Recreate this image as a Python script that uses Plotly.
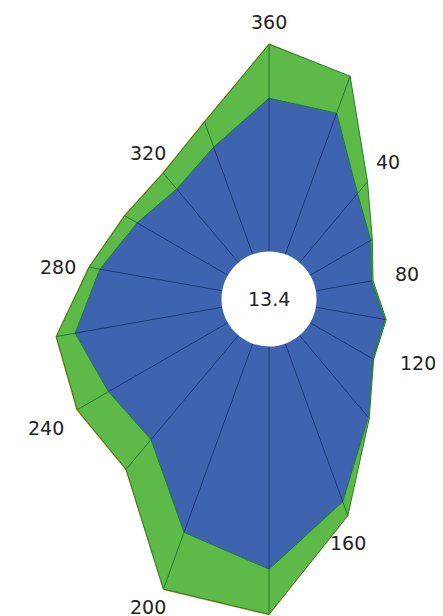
import numpy as np
import plotly.graph_objects as go

# ---- data (percent frequency per direction, stacked) ----
directions = [0, 20, 40, 60, 80, 100, 120, 140, 160, 180, 200, 220, 240, 260, 280, 300, 320, 340]
blue_vals = [5.06, 4.96, 2.98, 2.31, 1.87, 2.32, 2.39, 3.53, 5.55, 7.35, 6.63, 4.49, 4.55, 4.93, 4.10, 3.46, 3.17, 3.77]
green_vals = [1.78, 1.30, 0.51, 0.06, 0.05, 0.04, 0.03, 0.05, 0.49, 1.49, 1.99, 1.28, 1.19, 0.63, 0.36, 0.47, 0.69, 0.88]
orange_vals = [0.03, 0.0, 0.0, 0.0, 0.0, 0.0, 0.0, 0.0, 0.01, 0.03, 0.03, 0.03, 0.03, 0.03, 0.03, 0.03, 0.03, 0.03]
tick_angles = [0, 40, 80, 120, 160, 200, 240, 280, 320]
tick_labels = ["360", "40", "80", "120", "160", "200", "240", "280", "320"]
calm_label = "13.4"

# ---- layout constants ----
PAGE_OFF = 8               # browser body margin
W, H = 443 - PAGE_OFF, 616 - PAGE_OFF
S = 30.3                   # pixels per percent unit
CX, CY = 269 - PAGE_OFF, 299 - PAGE_OFF   # centre in figure pixels
HOLE = 47.5 / S            # hole radius (units)

BLUE = "#3E64AF"
GREEN = "#5DB948"
ORANGE = "#E08A1E"
NAVY = "#1C3A78"
DKGREEN = "#1E7A2E"
FONT = dict(family="DejaVu Sans", size=19, color="#222")

# small per-label pixel nudges (label styling, x right / y down)
LABEL_NUDGE = {"360": (0, 2), "40": (0, 0), "80": (8, -4), "120": (15, -12),
               "160": (-22, 5), "200": (7, -5), "240": (-1, 2), "280": (1, 2),
               "320": (11, 0)}

theta = np.deg2rad(np.array(directions, dtype=float))
c1 = HOLE + np.array(blue_vals)
c2 = c1 + np.array(green_vals)
c3 = c2 + np.array(orange_vals)


def ring(r):
    x = r * np.sin(theta)
    y = r * np.cos(theta)
    return np.append(x, x[0]), np.append(y, y[0])


fig = go.Figure()

for r, fill, lw in [(c3, ORANGE, 0), (c2, GREEN, 0.9), (c1, BLUE, 0.9)]:
    x, y = ring(r)
    fig.add_trace(go.Scatter(x=x, y=y, mode="lines", fill="toself", fillcolor=fill,
                             line=dict(color=DKGREEN if lw else fill, width=lw),
                             hoverinfo="skip", showlegend=False))


def spokes(r0, r1, color):
    xs, ys = [], []
    for t, a, b in zip(theta, r0, r1):
        xs += [a * np.sin(t), b * np.sin(t), None]
        ys += [a * np.cos(t), b * np.cos(t), None]
    fig.add_trace(go.Scatter(x=xs, y=ys, mode="lines", line=dict(color=color, width=1),
                             hoverinfo="skip", showlegend=False))


spokes(np.full(len(directions), HOLE), c1, NAVY)
spokes(c1, c2, DKGREEN)

# hole
fig.add_shape(type="circle", x0=-HOLE, x1=HOLE, y0=-HOLE, y1=HOLE,
              fillcolor="white", line=dict(width=0), layer="above")
fig.add_annotation(x=0, y=0, text=calm_label, showarrow=False, font=FONT)

# angular labels just outside the outer edge
outer = dict(zip(directions, c3))
PAD = 15 / S
for ang, lab in zip(tick_angles, tick_labels):
    t = np.deg2rad(ang)
    s, c = np.sin(t), np.cos(t)
    r = outer[ang] + PAD
    px, py = r * s, r * c
    hw = 5.5 * len(lab) / S
    hh = 8.0 / S
    sx = 1 if s > 0.3 else (-1 if s < -0.3 else 0)
    sy = 1 if c > 0.3 else (-1 if c < -0.3 else 0)
    nx, ny = LABEL_NUDGE[lab]
    fig.add_annotation(x=px + sx * hw + nx / S, y=py + sy * hh - ny / S, text=lab,
                       showarrow=False, font=FONT)

fig.update_xaxes(visible=False, range=[-CX / S, (W - CX) / S], fixedrange=True)
fig.update_yaxes(visible=False, range=[-(H - CY) / S, CY / S], fixedrange=True)
fig.update_layout(width=W, height=H, margin=dict(l=0, r=0, t=0, b=0),
                  plot_bgcolor="white", paper_bgcolor="white", showlegend=False)

fig.write_html("out.html")
